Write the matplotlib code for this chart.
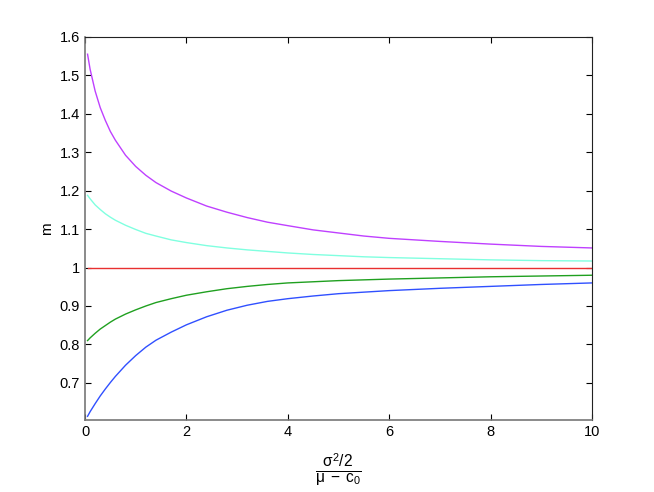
import matplotlib
matplotlib.use('Agg')
import matplotlib.pyplot as plt

plt.rcParams['font.family'] = ['Liberation Sans', 'DejaVu Sans']
plt.rcParams['mathtext.fontset'] = 'custom'
plt.rcParams['mathtext.rm'] = 'Liberation Sans'
plt.rcParams['mathtext.it'] = 'Liberation Sans'
plt.rcParams['mathtext.sf'] = 'Liberation Sans'

# values
x = [0.05, 0.1, 0.2, 0.3, 0.4, 0.5, 0.6, 0.8, 1.0, 1.2, 1.4, 1.7, 2.0,
     2.4, 2.8, 3.2, 3.6, 4.0, 4.5, 5.0, 5.5, 6.0, 7.0, 8.0, 9.0, 10.0]
m_purple = [1.555, 1.516, 1.459, 1.416, 1.383, 1.354, 1.331, 1.292, 1.263,
            1.240, 1.221, 1.199, 1.181, 1.160, 1.144, 1.130, 1.118, 1.109,
            1.098, 1.090, 1.082, 1.076, 1.068, 1.061, 1.055, 1.051]
m_cyan = [1.188, 1.179, 1.163, 1.151, 1.140, 1.131, 1.123, 1.110, 1.099,
          1.089, 1.082, 1.072, 1.065, 1.057, 1.051, 1.046, 1.042, 1.038,
          1.034, 1.031, 1.028, 1.026, 1.023, 1.020, 1.018, 1.017]
m_red = [1.0] * len(x)
m_green = [0.810, 0.817, 0.829, 0.840, 0.849, 0.858, 0.866, 0.879, 0.890,
           0.900, 0.909, 0.919, 0.928, 0.937, 0.945, 0.951, 0.956, 0.960,
           0.963, 0.966, 0.968, 0.970, 0.973, 0.976, 0.978, 0.980]
m_blue = [0.613, 0.625, 0.646, 0.666, 0.684, 0.701, 0.717, 0.746, 0.771,
          0.793, 0.811, 0.832, 0.851, 0.872, 0.889, 0.902, 0.912, 0.919,
          0.926, 0.932, 0.936, 0.940, 0.946, 0.951, 0.956, 0.960]

yticks = [0.7, 0.8, 0.9, 1.0, 1.1, 1.2, 1.3, 1.4, 1.5, 1.6]
yticklabels = ['0.7', '0.8', '0.9', '1', '1.1', '1.2', '1.3', '1.4', '1.5', '1.6']
xticks = [0, 2, 4, 6, 8, 10]

fig = plt.figure(figsize=(6.54, 4.92), dpi=100)
ax = fig.add_axes([0.13, 0.146, 0.775, 0.779])

ax.plot(x, m_purple, color='#bf40ff', lw=1)
ax.plot(x, m_cyan, color='#80ffe0', lw=1)
ax.plot(x, m_red, color='#e83030', lw=1)
ax.plot(x, m_green, color='#20a020', lw=1)
ax.plot(x, m_blue, color='#3050ff', lw=1)

ax.set_xlim(0, 10)
ax.set_ylim(0.603, 1.6)
ax.set_xticks(xticks)
ax.set_yticks(yticks)
ax.set_yticklabels(yticklabels)
ax.tick_params(direction='in', top=True, right=True, length=4, labelsize=10.5, width=0.8)

for side in ['left', 'bottom']:
    ax.spines[side].set_color('#777777')
    ax.spines[side].set_linewidth(1.2)
for side in ['top', 'right']:
    ax.spines[side].set_color('#222222')
    ax.spines[side].set_linewidth(0.8)

ax.set_ylabel('m', fontsize=11)
ax.set_xlabel(r'$\frac{\sigma^2/2}{\mu\;-\;c_0}$', fontsize=16, labelpad=9)

fig.savefig('out.png', dpi=100)
